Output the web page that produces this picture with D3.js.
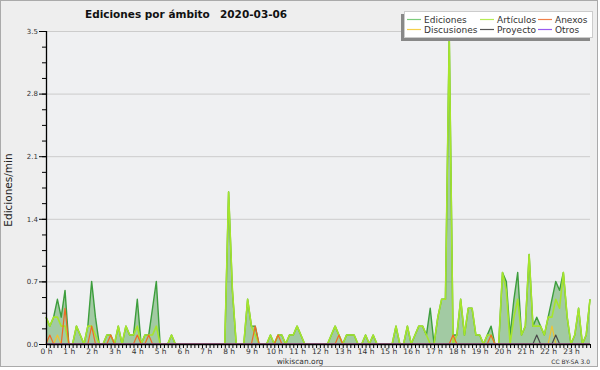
<!DOCTYPE html>
<html><head><meta charset="utf-8">
<script src="https://cdn.jsdelivr.net/npm/d3@7/dist/d3.min.js"></script>
<style>body{margin:0;background:#fff;} text{font-family:"DejaVu Sans",sans-serif;}</style>
</head><body>
<svg id="chart" width="600" height="370"></svg>
<script>
const hourLabels = ["0 h","1 h","2 h","3 h","4 h","5 h","6 h","7 h","8 h","9 h","10 h","11 h","12 h","13 h","14 h","15 h","16 h","17 h","18 h","19 h","20 h","21 h","22 h","23 h"];
const yTickValues = [0, 0.7, 1.4, 2.1, 2.8, 3.5];
const seriesNames = ["Ediciones","Discusiones","Artículos","Proyecto","Anexos","Otros"];

// one value per 10 minutes (144 points), edits per minute
const ediciones = [
0.3,0.2,0.3,0.5,0.3,0.6,0,0,0.2,0.1,
0,0.2,0.7,0.3,0,0,0.1,0.1,0,0.2,
0,0.2,0.1,0.1,0.5,0,0.1,0.1,0.4,0.7,
0,0,0,0.1,0,0,0,0,0,0,
0,0,0,0,0,0,0,0,1.7,0.6,
0,0,0,0.5,0.2,0.2,0,0,0,0.1,
0,0.1,0.1,0,0.1,0.1,0.2,0.1,0,0,
0,0,0,0,0,0.1,0.2,0.1,0,0.1,
0.1,0.1,0,0,0.1,0,0.1,0,0,0,
0,0,0.2,0,0,0.2,0,0.1,0.2,0.2,
0.1,0.4,0,0.3,0.5,0.5,3.45,0.1,0.1,0.5,
0.1,0.4,0.4,0.1,0.1,0,0.1,0.2,0,0,
0.8,0.7,0.1,0.5,0.8,0.1,0.2,1.0,0.2,0.3,
0.2,0.1,0.3,0.5,0.7,0.6,0.8,0.3,0,0.1,
0.4,0,0.1,0.5];
const articulos = [
0.3,0.2,0.3,0.3,0.2,0.2,0,0,0.2,0.1,
0,0.2,0.2,0.1,0,0,0.1,0.1,0,0.2,
0,0.2,0.1,0.1,0.2,0,0.1,0.1,0.1,0.2,
0,0,0,0.1,0,0,0,0,0,0,
0,0,0,0,0,0,0,0,1.7,0.6,
0,0,0,0.5,0.2,0.1,0,0,0,0.1,
0,0.1,0.1,0,0.1,0.1,0.2,0.1,0,0,
0,0,0,0,0,0.1,0.2,0.1,0,0.1,
0.1,0.1,0,0,0.1,0,0.1,0,0,0,
0,0,0.2,0,0,0.2,0,0.1,0.2,0.2,
0.1,0,0,0.3,0.5,0.5,3.45,0,0.1,0.5,
0.1,0.4,0.4,0.1,0.1,0,0.1,0.1,0,0,
0.8,0.6,0,0.3,0.5,0.1,0.2,1.0,0.2,0.2,
0.2,0.1,0.3,0.3,0.5,0.4,0.8,0.3,0,0.1,
0.4,0,0.1,0.5];
const discusiones = [
0,0,0,0.1,0,0,0,0,0,0, 0,0,0,0,0,0,0,0,0,0, 0,0,0,0,0,0,0,0,0,0,
0,0,0,0,0,0,0,0,0,0, 0,0,0,0,0,0,0,0,0,0, 0,0,0,0,0,0,0,0,0,0,
0,0,0,0,0,0,0,0,0,0, 0,0,0,0,0,0,0,0,0,0, 0,0,0,0,0,0,0,0,0,0,
0,0,0,0,0,0,0,0,0,0, 0,0,0,0,0,0,0,0,0,0, 0,0,0,0,0,0,0,0,0,0,
0,0,0,0,0,0,0,0,0,0, 0,0,0,0.2,0,0,0,0,0,0, 0,0,0,0];
const anexos = [
0,0.1,0,0,0,0.4,0,0,0,0, 0,0,0.2,0,0,0,0,0.1,0,0, 0,0,0,0,0.1,0,0,0.1,0,0,
0,0,0,0,0,0,0,0,0,0, 0,0,0,0,0,0,0,0,0,0, 0,0,0,0,0,0.2,0,0,0,0,
0,0.1,0,0,0,0,0,0,0,0, 0,0,0,0,0,0,0,0.1,0,0, 0,0,0,0,0,0,0,0,0,0,
0,0,0,0,0,0,0,0,0,0, 0,0,0,0,0,0,0,0.1,0,0, 0,0,0,0,0,0,0,0.1,0,0,
0,0,0,0,0,0,0,0,0,0, 0,0,0,0,0,0,0,0,0,0, 0,0,0,0];
const proyecto = [
0,0,0,0,0,0,0,0,0,0, 0,0,0,0,0,0,0,0,0,0, 0,0,0,0,0,0,0,0,0,0,
0,0,0,0,0,0,0,0,0,0, 0,0,0,0,0,0,0,0,0,0, 0,0,0,0,0,0,0,0,0,0,
0,0,0,0,0,0,0,0,0,0, 0,0,0,0,0,0,0,0,0,0, 0,0,0,0,0,0,0,0,0,0,
0,0,0,0,0,0,0,0,0,0, 0,0,0,0,0,0,0,0,0,0, 0,0,0,0,0,0,0,0,0,0,
0,0,0,0,0,0,0,0,0,0.1, 0,0,0,0,0.1,0,0,0,0,0, 0,0,0,0];
const otros = [
0,0,0,0,0,0,0,0,0,0, 0,0,0,0,0,0,0,0,0,0, 0,0,0,0,0,0,0,0,0,0,
0,0,0,0,0,0,0,0,0,0, 0,0,0,0,0,0,0,0,0,0, 0,0,0,0,0,0,0,0,0,0,
0,0,0,0,0,0,0,0,0,0, 0,0,0,0,0,0,0,0,0,0, 0,0,0,0,0,0,0,0,0,0,
0,0,0,0,0,0,0,0,0,0, 0,0,0,0,0,0,0,0,0,0, 0,0,0,0,0,0,0,0,0,0,
0,0,0,0,0,0,0,0,0,0, 0,0,0,0,0,0,0,0,0,0, 0,0,0,0];

const colors = {
  Ediciones: "#3d9e3d", Discusiones: "#f0c430", "Artículos": "#a6e52c",
  Proyecto: "#4a4a4a", Anexos: "#ef6a25", Otros: "#9050e8"
};
const legendColors = {
  Ediciones: "#7ccc7c", Discusiones: "#f5d04b", "Artículos": "#b6ec55",
  Proyecto: "#555555", Anexos: "#f0804a", Otros: "#9a5cf0"
};

const svg = d3.select("#chart");
const n = ediciones.length;
const x = d3.scaleLinear().domain([0, n - 1]).range([46, 590]);
const y = d3.scaleLinear().domain([0, 3.5]).range([344, 31]);

// backgrounds
svg.append("rect").attr("x",0).attr("y",0).attr("width",600).attr("height",370).attr("fill","#ffffff");
svg.append("rect").attr("x",0.5).attr("y",0.5).attr("width",597).attr("height",366)
  .attr("fill","#eeeeee").attr("stroke","#aaaaaa").attr("stroke-width",1);
svg.append("rect").attr("x",x(0)).attr("y",y(3.5)).attr("width",x(n-1)-x(0)).attr("height",y(0)-y(3.5))
  .attr("fill","#eff0f2");

// grid
svg.append("g").selectAll("line").data(yTickValues.filter(v => v > 0)).join("line")
  .attr("x1", x(0)).attr("x2", x(n-1)).attr("y1", d => y(d)+0.5).attr("y2", d => y(d)+0.5)
  .attr("stroke", "#cccccc").attr("stroke-width", 1);

// series
const line = d3.line().x((d,i) => x(i)).y(d => y(d));
const area = d3.area().x((d,i) => x(i)).y0(y(0)).y1(d => y(d));

svg.append("path").datum(ediciones).attr("d", area).attr("fill", "rgba(55,150,55,0.42)");
svg.append("path").datum(ediciones).attr("d", line).attr("fill","none")
  .attr("stroke", colors.Ediciones).attr("stroke-width", 1.4).attr("stroke-linejoin","round");
const others = [["Artículos", articulos],["Discusiones", discusiones],["Proyecto", proyecto],["Anexos", anexos],["Otros", otros]];
others.forEach(([name, vals]) => {
  svg.append("path").datum(vals).attr("d", line).attr("fill","none")
    .attr("stroke", colors[name]).attr("stroke-width", name === "Artículos" ? 1.6 : 1.2)
    .attr("stroke-linejoin","round");
});

// axes
const yAxisMinor = d3.axisLeft(y).tickValues(d3.range(0, 3.5001, 0.175)).tickSize(4).tickFormat("");
const gyMinor = svg.append("g").attr("transform", `translate(${x(0)},0)`).call(yAxisMinor);
gyMinor.select(".domain").remove();
const yAxis = d3.axisLeft(y).tickValues(yTickValues).tickSize(7).tickPadding(1).tickFormat(d3.format(".1f"));
const gy = svg.append("g").attr("transform", `translate(${x(0)},0)`).call(yAxis);
gy.select(".domain").attr("d", `M0.5,${y(3.5)}V${y(0)}`).attr("stroke","#000").attr("stroke-width",1.3);
svg.selectAll("g.tick line").attr("stroke","#000");
gy.selectAll("text").attr("font-size", 7).attr("fill","#333").attr("font-family","DejaVu Sans");

const xAxisMinor = d3.axisBottom(x).tickValues(d3.range(0, n)).tickSize(4).tickFormat("");
const gxMinor = svg.append("g").attr("transform", `translate(0,${y(0)})`).call(xAxisMinor);
gxMinor.select(".domain").attr("d", `M${x(0)},0.5H${x(n-1)}`).attr("stroke","#000").attr("stroke-width",1.6);
gxMinor.selectAll(".tick line").attr("stroke","#000");
const xAxis = d3.axisBottom(x).tickValues(d3.range(0, n, 6)).tickSize(0).tickPadding(5)
  .tickFormat(d => hourLabels[d / 6]);
const gx = svg.append("g").attr("transform", `translate(0,${y(0)})`).call(xAxis);
gx.select(".domain").remove();
gx.selectAll("text").attr("font-size", 7.5).attr("fill","#333").attr("font-family","DejaVu Sans");

// y label
svg.append("text").attr("transform","translate(12,190) rotate(-90)").attr("text-anchor","middle")
  .attr("font-size",10.5).attr("fill","#222").text("Ediciones/min");

// title
svg.append("text").attr("x",85).attr("y",18).attr("font-size",10.5).attr("font-weight","bold")
  .attr("fill","#111").text("Ediciones por ámbito");
svg.append("text").attr("x",220).attr("y",18).attr("font-size",10.5).attr("font-weight","bold")
  .attr("fill","#111").text("2020-03-06");

// footer
svg.append("text").attr("x",300).attr("y",364).attr("text-anchor","middle").attr("font-size",7.5)
  .attr("fill","#333").text("wikiscan.org");
svg.append("text").attr("x",590).attr("y",364).attr("text-anchor","end").attr("font-size",6)
  .attr("fill","#333").text("CC BY-SA 3.0");

// legend
const lg = svg.append("g");
lg.append("rect").attr("x",401).attr("y",14).attr("width",189).attr("height",27).attr("fill","#888888");
lg.append("rect").attr("x",404.5).attr("y",11.5).attr("width",188).attr("height",26)
  .attr("fill","#ffffff").attr("stroke","#cccccc");
const legendItems = [
  {name:"Ediciones", col:0, row:0}, {name:"Discusiones", col:0, row:1},
  {name:"Artículos", col:1, row:0}, {name:"Proyecto", col:1, row:1},
  {name:"Anexos", col:2, row:0}, {name:"Otros", col:2, row:1}
];
const colLineX = [407, 480, 538];
const colTextX = [424, 497, 555];
const rowY = [19.5, 29.5];
legendItems.forEach(it => {
  lg.append("line").attr("x1", colLineX[it.col]).attr("x2", colLineX[it.col] + 14)
    .attr("y1", rowY[it.row]).attr("y2", rowY[it.row])
    .attr("stroke", legendColors[it.name]).attr("stroke-width", 1.2);
  lg.append("text").attr("x", colTextX[it.col]).attr("y", rowY[it.row] + 3.3)
    .attr("font-size", 9).attr("fill","#333").text(it.name);
});
</script>
</body></html>
